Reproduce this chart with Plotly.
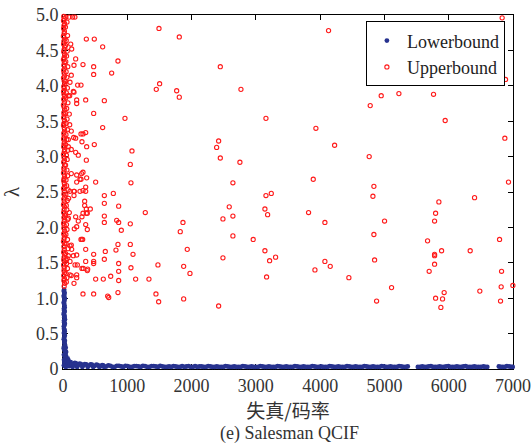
import plotly.graph_objects as go

# ---------------------------------------------------------------
# Data: lambda bounds vs. distortion/rate ratio (Salesman, QCIF)
# ---------------------------------------------------------------

# Upper bound: dense column hugging the lambda axis
ub_col1_x = [12, 20, 8, 25, 15, 10, 22, 18, 6, 28,
             14, 9, 24, 17, 11, 27, 19, 7, 21, 13,
             26, 10, 16, 23, 8, 18, 29, 12, 20, 9,
             15, 25, 11, 22, 7, 17, 28, 13, 19, 10,
             24, 14, 8, 21, 27, 12, 18, 9, 23, 16,
             11, 26, 20, 7, 15, 22, 10, 28, 13, 18,
             8, 24, 16, 11, 21, 27, 9, 19, 14, 25,
             12, 20, 8, 23, 17, 10, 26, 15, 21, 9,
             18, 13, 25, 11, 22, 16, 7, 27, 14, 20,
             10, 24, 17, 12, 28, 9, 19, 15, 23, 11,
             21, 14, 26, 18]
ub_col1_y = [4.98, 4.95, 4.92, 4.88, 4.85, 4.81, 4.77, 4.74, 4.70, 4.66,
             4.63, 4.59, 4.55, 4.51, 4.48, 4.44, 4.40, 4.37, 4.33, 4.29,
             4.25, 4.22, 4.18, 4.14, 4.11, 4.07, 4.03, 3.99, 3.96, 3.92,
             3.88, 3.85, 3.81, 3.77, 3.73, 3.70, 3.66, 3.62, 3.59, 3.55,
             3.51, 3.47, 3.44, 3.40, 3.36, 3.33, 3.29, 3.25, 3.21, 3.18,
             3.14, 3.10, 3.07, 3.03, 2.99, 2.95, 2.92, 2.88, 2.84, 2.81,
             2.77, 2.73, 2.69, 2.66, 2.62, 2.58, 2.55, 2.51, 2.47, 2.43,
             2.40, 2.36, 2.32, 2.29, 2.25, 2.21, 2.17, 2.14, 2.10, 2.06,
             2.03, 1.99, 1.95, 1.91, 1.88, 1.84, 1.80, 1.77, 1.73, 1.69,
             1.65, 1.62, 1.58, 1.54, 1.51, 1.47, 1.43, 1.39, 1.36, 1.32,
             1.28, 1.25, 1.21, 1.17]

ub_col2_x = [45, 62, 38, 71, 50, 40, 66, 55, 43, 74,
             48, 60, 39, 68, 52, 44, 77, 57, 41, 63,
             49, 70, 46, 58, 42, 75, 53, 65, 40, 61,
             72, 47, 56, 80, 44, 67, 51, 59, 38, 73,
             54, 62, 45, 70, 48, 78, 41, 64, 55, 69,
             47, 60, 52]
ub_col2_y = [4.97, 4.90, 4.83, 4.71, 4.64, 4.57, 4.49, 4.42, 4.34, 4.27,
             4.20, 4.12, 4.06, 3.97, 3.90, 3.83, 3.76, 3.68, 3.61, 3.53,
             3.47, 3.38, 3.31, 3.24, 3.17, 3.09, 3.02, 2.96, 2.88, 2.81,
             2.73, 2.67, 2.59, 2.53, 2.46, 2.38, 2.31, 2.25, 2.18, 2.11,
             2.04, 1.97, 1.90, 1.83, 1.77, 1.70, 1.63, 1.56, 1.49, 1.42,
             1.35, 1.29, 1.23]

# Upper bound: scattered samples (ratio, lambda)
ub_scatter = [
    (1493, 4.81), (1809, 4.69), (4131, 4.78), (363, 4.66), (487, 4.66),
    (617, 4.55), (197, 4.38), (855, 4.35), (311, 4.30), (171, 4.29),
    (477, 4.27), (2447, 4.27), (477, 4.16), (757, 4.18), (129, 4.15),
    (1503, 4.03), (1451, 3.95), (1768, 3.93), (1809, 3.84), (2768, 3.95),
    (228, 4.01), (280, 4.01), (171, 3.91), (104, 3.86), (213, 3.80),
    (213, 3.75), (353, 3.80), (643, 3.79), (477, 3.61), (964, 3.54),
    (3157, 3.54), (104, 3.45), (617, 3.41), (3934, 3.40), (129, 3.36),
    (280, 3.32), (311, 3.32), (353, 3.34), (166, 3.27), (197, 3.26),
    (295, 3.21), (2421, 3.22), (2390, 3.13), (4225, 3.16), (368, 3.14),
    (487, 3.17), (129, 3.10), (1073, 3.08), (197, 3.06), (238, 3.02),
    (2447, 2.98), (363, 2.95), (1047, 2.89), (2752, 2.92), (311, 2.78),
    (129, 2.76), (213, 2.74), (368, 2.70), (280, 2.68), (213, 2.64),
    (508, 2.64), (1057, 2.63), (2643, 2.63), (3893, 2.68), (171, 2.51),
    (311, 2.52), (353, 2.51), (353, 2.57), (643, 2.45), (783, 2.48),
    (3157, 2.45), (3240, 2.48), (171, 2.45), (337, 2.37), (337, 2.31),
    (643, 2.34), (866, 2.30), (2586, 2.29), (3141, 2.26), (3183, 2.18),
    (363, 2.26), (425, 2.26), (363, 2.20), (311, 2.20), (295, 2.15),
    (378, 2.20), (1280, 2.21), (3820, 2.21), (643, 2.16), (643, 2.07),
    (835, 2.10), (866, 2.07), (1047, 2.05), (2488, 2.12), (2643, 2.16),
    (1866, 2.07), (1824, 1.94), (4074, 2.07), (353, 2.04), (378, 1.97),
    (907, 1.96), (2643, 1.88), (2959, 1.83), (295, 1.83), (129, 1.75),
    (353, 1.69), (855, 1.76), (1047, 1.76), (824, 1.68), (658, 1.66),
    (1089, 1.62), (477, 1.62), (213, 1.61), (1933, 1.69), (3141, 1.67),
    (3214, 1.53), (3307, 1.58), (2488, 1.57), (643, 1.55), (353, 1.52),
    (477, 1.52), (477, 1.49), (866, 1.49), (1477, 1.47), (1877, 1.45),
    (1057, 1.43), (866, 1.38), (378, 1.39), (295, 1.42), (1975, 1.35),
    (742, 1.31), (213, 1.33), (213, 1.29), (129, 1.32), (508, 1.27),
    (627, 1.27), (866, 1.25), (1130, 1.27), (1337, 1.27), (3167, 1.30),
    (3919, 1.40), (4074, 1.52), (4157, 1.45), (4447, 1.29), (171, 1.21),
    (311, 1.06), (477, 1.06), (695, 1.03), (711, 1.01), (855, 1.08),
    (1446, 1.06), (1488, 0.95), (1877, 0.99), (2421, 0.89),
    (6760, 4.12), (6884, 4.09), (6831, 4.96), (4950, 3.86), (5225, 3.89),
    (5764, 3.88), (4779, 3.72), (5945, 3.51), (6873, 3.26), (4763, 3.00),
    (6930, 2.64), (4836, 2.58), (4821, 2.44), (6402, 2.42), (5847, 2.36),
    (5796, 2.20), (5002, 2.09), (5780, 2.09), (4836, 1.90), (6791, 1.83),
    (5671, 1.81), (5889, 1.67), (6334, 1.67), (5780, 1.62), (5780, 1.60),
    (4847, 1.54), (5780, 1.48), (5696, 1.38), (6822, 1.38), (5111, 1.15),
    (6816, 1.16), (6998, 1.18), (5929, 1.08), (6484, 1.10), (4878, 0.96),
    (5796, 1.00), (5904, 0.99), (6806, 0.96), (5878, 0.87),
    (95, 4.97), (150, 4.97), (185, 4.97), (120, 4.59), (135, 4.52),
    (109, 4.05), (161, 3.92), (83, 3.86), (98, 3.60), (83, 3.24),
    (83, 3.14), (109, 2.51), (176, 2.51), (264, 2.51), (88, 2.41),
    (98, 2.21), (83, 2.13), (197, 2.15), (238, 2.09), (176, 1.98),
    (213, 2.01), (280, 1.83), (306, 1.83), (109, 1.74), (135, 1.69),
    (83, 1.60), (161, 1.60), (47, 1.54), (109, 1.52), (187, 1.47),
    (223, 1.47), (316, 1.42), (384, 1.41), (109, 1.33), (264, 2.68),
    (290, 2.76),
]

# Lower bound: steep rise at very small ratios
lb_rise = [
    (18, 1.12), (24, 1.08), (15, 1.04), (28, 1.00), (21, 0.96), (17, 0.92),
    (26, 0.87), (20, 0.83), (14, 0.79), (25, 0.75), (30, 0.70), (19, 0.66),
    (23, 0.62), (16, 0.57), (27, 0.53), (22, 0.49), (18, 0.44), (29, 0.40),
    (24, 0.36), (15, 0.31), (20, 0.27), (32, 0.22), (26, 0.18), (42, 0.30),
    (48, 0.24), (45, 0.19), (55, 0.14), (40, 0.10), (52, 0.06), (20, 0.10),
    (34, 0.04), (62, 0.08), (85, 0.12), (72, 0.15), (95, 0.04),
    (12, 1.10), (22, 1.06), (13, 1.02), (23, 0.98), (12, 0.94), (22, 0.90),
    (14, 0.85), (26, 0.81), (12, 0.77), (21, 0.73), (15, 0.68), (28, 0.64),
    (13, 0.60), (24, 0.55), (14, 0.51), (28, 0.47), (13, 0.42), (21, 0.38),
    (32, 0.34), (12, 0.29), (36, 0.25), (14, 0.20), (38, 0.16), (16, 0.13),
    (30, 0.08), (14, 0.05), (44, 0.03), (58, 0.04), (66, 0.11), (78, 0.07),
]

# Lower bound: near-zero floor across the ratio range (two staggered rows)
lb_floor = [
    (120, 0.095), (150, 0.03), (185, 0.085), (220, 0.03), (260, 0.075),
    (300, 0.03), (340, 0.07), (385, 0.03), (430, 0.065), (470, 0.03),
    (520, 0.06), (565, 0.03), (610, 0.055), (640, 0.03), (705, 0.05),
    (770, 0.03), (838, 0.045), (905, 0.035), (972, 0.045), (1040, 0.03),
    (1108, 0.04), (1175, 0.035), (1243, 0.045), (1310, 0.03), (1378, 0.04),
    (1445, 0.035), (1512, 0.045), (1585, 0.03), (1650, 0.035), (1718, 0.04),
    (1786, 0.03), (1853, 0.04), (1920, 0.035), (1988, 0.03), (2055, 0.04),
    (2122, 0.035), (2190, 0.03), (2258, 0.04), (2325, 0.03), (2393, 0.035),
    (2460, 0.03), (2528, 0.04), (2596, 0.03), (2663, 0.035), (2730, 0.03),
    (2798, 0.04), (2865, 0.03), (2933, 0.035), (3000, 0.03), (3068, 0.04),
    (3136, 0.03), (3203, 0.035), (3270, 0.03), (3338, 0.04), (3405, 0.03),
    (3473, 0.035), (3540, 0.03), (3608, 0.04), (3676, 0.03), (3743, 0.035),
    (3810, 0.03), (3878, 0.04), (3945, 0.03), (4013, 0.035), (4080, 0.03),
    (4148, 0.04), (4216, 0.03), (4283, 0.035), (4350, 0.03), (4418, 0.04),
    (4485, 0.03), (4553, 0.035), (4620, 0.03), (4688, 0.04), (4756, 0.03),
    (4823, 0.035), (4890, 0.03), (4958, 0.04), (5025, 0.03), (5093, 0.035),
    (5160, 0.03), (5228, 0.04), (5296, 0.03), (5363, 0.035), (5520, 0.03),
    (5588, 0.035), (5655, 0.03), (5723, 0.04), (5790, 0.03), (5858, 0.035),
    (5925, 0.03), (5993, 0.04), (6060, 0.03), (6128, 0.035), (6196, 0.03),
    (6263, 0.04), (6330, 0.03), (6398, 0.035), (6465, 0.03), (6540, 0.035),
    (6600, 0.03), (6780, 0.035), (6840, 0.03), (6905, 0.04), (6975, 0.03),
]
lb_floor2 = [
    (88, 0.09), (135, 0.07), (168, 0.06), (203, 0.08), (240, 0.055),
    (280, 0.07), (320, 0.05), (362, 0.065), (408, 0.05), (450, 0.06),
    (495, 0.045), (543, 0.055), (588, 0.04), (625, 0.05), (672, 0.035),
    (738, 0.045), (804, 0.03), (871, 0.045), (938, 0.03), (1006, 0.04),
    (1074, 0.03), (1141, 0.04), (1209, 0.03), (1276, 0.04), (1344, 0.03),
    (1411, 0.04), (1479, 0.03), (1548, 0.035), (1618, 0.03), (1684, 0.03),
    (1752, 0.035), (1820, 0.03), (1887, 0.03), (1954, 0.04), (2021, 0.03),
    (2088, 0.03), (2156, 0.035), (2224, 0.03), (2291, 0.035), (2359, 0.03),
    (2426, 0.03), (2494, 0.03), (2562, 0.035), (2630, 0.03), (2696, 0.03),
    (2764, 0.03), (2831, 0.035), (2899, 0.03), (2966, 0.03), (3034, 0.03),
    (3102, 0.035), (3170, 0.03), (3236, 0.03), (3304, 0.03), (3371, 0.035),
    (3439, 0.03), (3506, 0.03), (3574, 0.03), (3642, 0.035), (3710, 0.03),
    (3776, 0.03), (3844, 0.03), (3911, 0.035), (3979, 0.03), (4046, 0.03),
    (4114, 0.03), (4182, 0.035), (4250, 0.03), (4316, 0.03), (4384, 0.03),
    (4451, 0.035), (4519, 0.03), (4586, 0.03), (4654, 0.03), (4722, 0.035),
    (4790, 0.03), (4856, 0.03), (4924, 0.03), (4991, 0.035), (5059, 0.03),
    (5126, 0.03), (5194, 0.03), (5262, 0.035), (5330, 0.03), (5554, 0.03),
    (5621, 0.03), (5689, 0.035), (5756, 0.03), (5824, 0.03), (5891, 0.03),
    (5959, 0.035), (6026, 0.03), (6094, 0.03), (6162, 0.03), (6230, 0.035),
    (6296, 0.03), (6364, 0.03), (6431, 0.03), (6500, 0.03), (6570, 0.03),
    (6810, 0.03), (6872, 0.03), (6940, 0.035), (6995, 0.03),
]

x_ticks = [0, 1000, 2000, 3000, 4000, 5000, 6000, 7000]
y_ticks = [0, 0.5, 1.0, 1.5, 2.0, 2.5, 3.0, 3.5, 4.0, 4.5, 5.0]
y_tick_labels = ["0", "0.5", "1.0", "1.5", "2.0", "2.5", "3.0",
                 "3.5", "4.0", "4.5", "5.0"]

# ---------------------------------------------------------------
ub_x = ub_col1_x + ub_col2_x + [p[0] for p in ub_scatter]
ub_y = ub_col1_y + ub_col2_y + [p[1] for p in ub_scatter]
lb_pts = lb_rise + lb_floor + lb_floor2
lb_x = [p[0] for p in lb_pts]
lb_y = [p[1] for p in lb_pts]

SERIF = "Liberation Serif, Times New Roman, serif"
BLUE = "#27328f"
RED = "#ff1a1a"
TEXT = "#333333"

fig = go.Figure()
fig.add_trace(go.Scatter(
    x=lb_x, y=lb_y, mode="markers", name="Lowerbound", cliponaxis=False,
    marker=dict(symbol="circle", size=4.8, color=BLUE, line=dict(width=0)),
))
fig.add_trace(go.Scatter(
    x=ub_x, y=ub_y, mode="markers", name="Upperbound", cliponaxis=False,
    marker=dict(symbol="circle-open", size=4.2, color=RED,
                line=dict(width=1.1, color=RED)),
))

# Box axes with inward ticks; marks are drawn over the axis lines
axis_common = dict(
    showline=True, linecolor="black", linewidth=1, mirror="ticks",
    ticks="inside", ticklen=5, tickwidth=1, tickcolor="black",
    showgrid=False, zeroline=False, automargin=False, layer="below traces",
    tickfont=dict(family=SERIF, size=18, color=TEXT),
)

fig.update_xaxes(
    range=[0, 7000], tickvals=x_ticks,
    title=dict(text="失真/码率", standoff=2,
               font=dict(family="Noto Sans CJK SC", size=19, color=TEXT)),
    **axis_common,
)
fig.update_yaxes(
    range=[0, 5.0], tickvals=y_ticks, ticktext=y_tick_labels,
    title=dict(text="λ", standoff=10,
               font=dict(family=SERIF, size=21, color=TEXT)),
    **axis_common,
)

fig.add_annotation(
    text="(e) Salesman QCIF", xref="paper", yref="paper",
    x=0.504, y=-0.182, xanchor="center", yanchor="middle", showarrow=False,
    font=dict(family=SERIF, size=18, color=TEXT),
)

fig.update_layout(
    width=532, height=446,
    margin=dict(l=63, r=19, t=15, b=77),
    paper_bgcolor="white", plot_bgcolor="white",
    showlegend=True,
    legend=dict(
        x=0.982, y=0.982, xanchor="right", yanchor="top",
        bgcolor="white", bordercolor="black", borderwidth=1,
        font=dict(family=SERIF, size=18, color="#222222"),
        itemwidth=30, tracegroupgap=0,
    ),
)

fig.write_html("out.html")
